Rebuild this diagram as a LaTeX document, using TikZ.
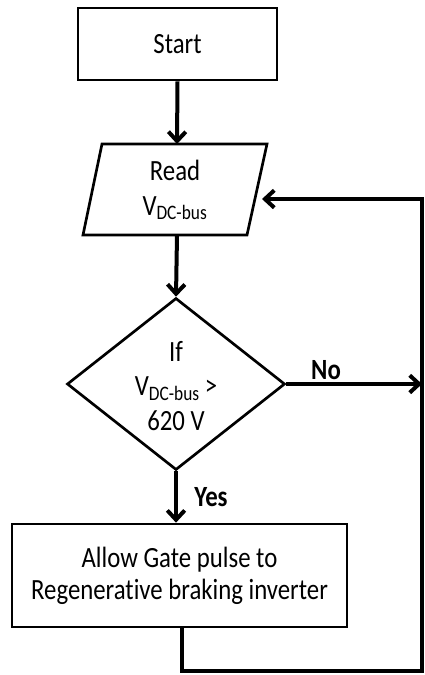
\documentclass[tikz,border=0pt]{standalone}
\usepackage{fontspec}
\setmainfont{Carlito}[FakeStretch=0.845,Ligatures=NoCommon]
\usetikzlibrary{arrows.meta,shapes.geometric}

\begin{document}
\begin{tikzpicture}[x=0.75pt,y=-0.75pt,
  box/.style={draw,line width=2pt,rectangle,inner sep=0pt},
  flow/.style={line width=3pt,-{Straight Barb[length=7pt,width=13pt]}},
  link/.style={line width=3pt},
  txt/.style={align=center,inner sep=0pt,font=\fontsize{22}{26}\selectfont},
  tag/.style={inner sep=0pt,font=\fontsize{22}{26}\selectfont\bfseries}]
\useasboundingbox (0,0) rectangle (425,675);

% start terminal
\node[box,txt,minimum width=149.25pt,minimum height=54pt] (start) at (177.5,44) {Start};

% input parallelogram
\coordinate (read-tl) at (102,144);
\coordinate (read-tr) at (267,144);
\coordinate (read-br) at (247,235);
\coordinate (read-bl) at (83,235);
\draw[line width=2pt] (read-tl) -- (read-tr) -- (read-br) -- (read-bl) -- cycle;
\node[txt] (read) at (175,190) {Read\\V\textsubscript{DC-bus}};
\coordinate (read-in) at (177,144);
\coordinate (read-out) at (177,235);
\coordinate (read-ret) at (262,199);

% decision
\node[diamond,draw,line width=2pt,inner sep=0pt,
      minimum width=163.5pt,minimum height=129pt] (test) at (176,384) {};
\node[txt] (test-text) at (176,386) {If\\V\textsubscript{DC-bus}\,>\\620 V};

% action
\node[box,align=center,font=\fontsize{22}{24}\selectfont,
      minimum width=251.25pt,minimum height=77.25pt] (act) at (179.5,575.5)
  {Allow Gate pulse to\\Regenerative braking inverter};

% return rail
\coordinate (rail-top) at (422,199);
\coordinate (rail-bot) at (422,671);

% connectors
\draw[flow] (start.south) -- (read-in);
\draw[flow] (read-out) -- (test.north);
\draw[flow] (test.east) -- (test.east -| rail-top);
\draw[flow] (test.south) -- (test.south |- act.north);
\draw[flow] ([xshift=1.5pt]act.south) |- (rail-bot) -- (rail-top) -- (read-ret);

% branch labels
\node[tag] (no) at (326,370) {No};
\node[tag] (yes) at (211,497) {Yes};
\end{tikzpicture}
\end{document}
